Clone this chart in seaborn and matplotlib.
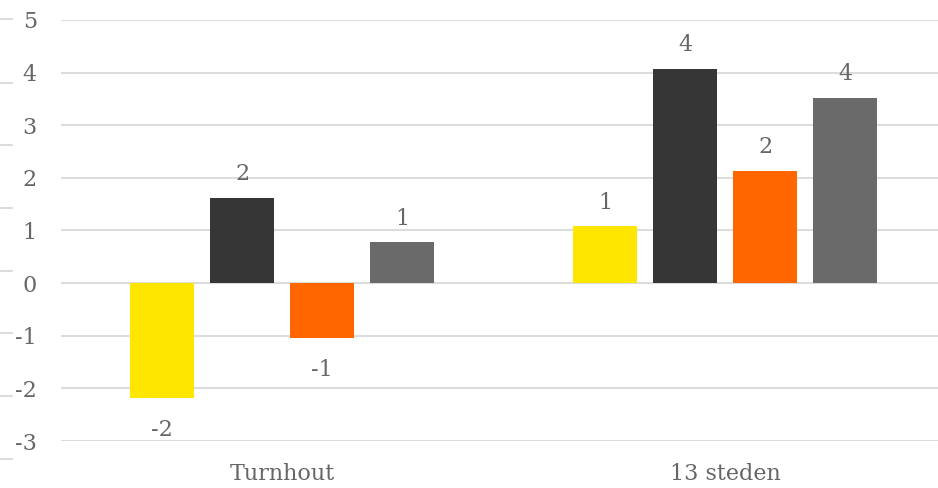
import pandas as pd
import seaborn as sns
import matplotlib.pyplot as plt
from matplotlib.lines import Line2D

# Data
categories = ['Turnhout', '13 steden']
series = ['A', 'B', 'C', 'D']
turnhout_values = [-2.19, 1.62, -1.05, 0.78]
steden_values = [1.08, 4.07, 2.13, 3.52]
colors = ['#FFE600', '#363636', '#FF6600', '#6A6A6A']
y_ticks = [-3, -2, -1, 0, 1, 2, 3, 4, 5]

rows = []
for s, v in zip(series, turnhout_values):
    rows.append({'cat': categories[0], 'serie': s, 'value': v})
for s, v in zip(series, steden_values):
    rows.append({'cat': categories[1], 'serie': s, 'value': v})
df = pd.DataFrame(rows)

sns.set_style('white')
plt.rcParams['font.family'] = ['DejaVu Serif']
plt.rcParams['axes.unicode_minus'] = False

fig = plt.figure(figsize=(9.38, 4.88), dpi=100)
ax = fig.add_axes([0.0645, 0.0963, 0.9446, 0.863])

sns.barplot(data=df, x='cat', y='value', hue='serie', palette=colors,
            saturation=1, width=0.722, gap=0.21, legend=False, ax=ax,
            zorder=3, linewidth=0)

txt_col = '#666666'
for cont in ax.containers:
    for b in cont:
        h = b.get_height()
        x = b.get_x() + b.get_width() / 2
        # labels below negative bars sit a bit further away
        off = 9 if h >= 0 else -15
        ax.annotate(f'{h:.0f}', (x, h), xytext=(0, off), textcoords='offset points',
                    ha='center', va='bottom' if h >= 0 else 'top',
                    fontsize=16, color=txt_col)

ax.set_ylim(-3, 5)
ax.set_yticks(y_ticks)
ax.set_xlim(-0.5, 1.5)
ax.yaxis.grid(True, color='#DCDCDC', linewidth=1.5, zorder=0)
ax.set_axisbelow(True)
for sp in ax.spines.values():
    sp.set_visible(False)
ax.tick_params(axis='y', length=0, pad=17, labelsize=16, labelcolor=txt_col)
ax.tick_params(axis='x', length=0, pad=16, labelsize=16, labelcolor=txt_col)
ax.set_xlabel('')
ax.set_ylabel('')

# small dashes at the left edge of the picture
for yy in [19, 83, 145, 208, 271, 333, 396, 459]:
    fy = 1 - yy / 488
    fig.add_artist(Line2D([0, 0.013], [fy, fy], color='#DCDCDC', linewidth=1.5))

fig.savefig('out.png', dpi=100)
